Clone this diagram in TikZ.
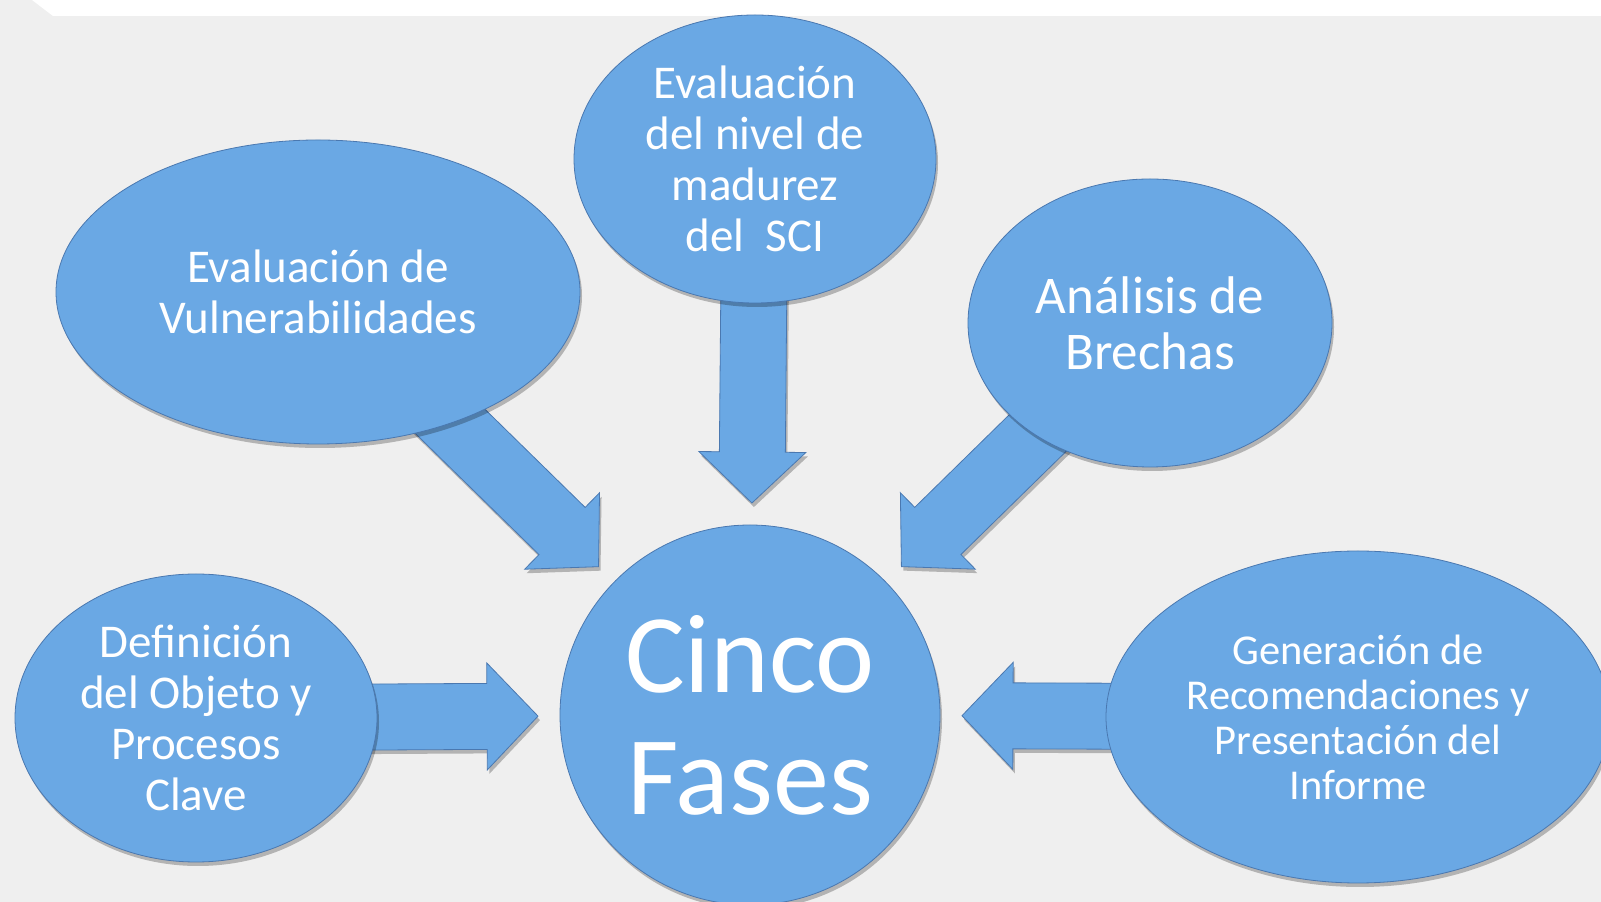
\documentclass[tikz,border=0pt]{standalone}
\usepackage{fontspec}
\setmainfont{Carlito}
\usetikzlibrary{shapes.geometric,calc,shadows}

\definecolor{phaseblue}{RGB}{106,168,228}
\definecolor{phaseedge}{RGB}{74,120,176}
\definecolor{paper}{RGB}{239,239,239}

\pgfdeclarelayer{back}
\pgfdeclarelayer{arrows}
\pgfsetlayers{back,arrows,main}

\tikzset{
  softshadow/.style={drop shadow={shadow xshift=2pt, shadow yshift=-4pt,
      opacity=0.25, fill=black}},
  phase/.style={ellipse, fill=phaseblue, draw=phaseedge, line width=0.8pt,
      text=white, align=center, inner sep=0pt, softshadow,
      font=\fontsize{47}{51}\selectfont},
  core/.style={circle, fill=phaseblue, draw=phaseedge, line width=0.8pt,
      text=white, align=center, inner sep=0pt, softshadow,
      font=\fontsize{112}{122}\selectfont},
  arrowbody/.style={fill=phaseblue, draw=phaseedge, line width=0.8pt,
      line join=miter, softshadow}
}

% block arrow from the centre of #1 towards #2, tip kept off #2's border
\newcommand{\blockarrow}[2]{%
  \coordinate (#1-tip) at ($(#2.center)!212pt!(#1.center)$);
  \coordinate (#1-base) at ($(#1-tip)!51pt!(#1.center)$);
  \filldraw[arrowbody]
    ($(#1.center)!33pt!90:(#1-tip)$) -- ($(#1-base)!33pt!90:(#1-tip)$)
    -- ($(#1-base)!53.5pt!90:(#1-tip)$) -- (#1-tip)
    -- ($(#1-base)!53.5pt!-90:(#1-tip)$) -- ($(#1-base)!33pt!-90:(#1-tip)$)
    -- ($(#1.center)!33pt!-90:(#1-tip)$) -- cycle;
}

\begin{document}
\begin{tikzpicture}[x=1pt,y=1pt]
  \useasboundingbox (0,0) rectangle (1601,902);

  % Background
  \begin{pgfonlayer}{back}
    \fill[paper] (0,0) rectangle (1601,902);
    \fill[white] (32,902) -- (53,886) -- (1601,886) -- (1601,902) -- cycle;
  \end{pgfonlayer}

  % Centre
  \node[core, minimum size=380pt] (cinco) at (750,187) {Cinco\\Fases};

  % Phases
  \node[phase, minimum width=524pt, minimum height=304pt] (vuln) at (318,610)
    {Evaluación de\\Vulnerabilidades};
  \node[phase, minimum width=362pt, minimum height=288pt] (madurez) at (755,743)
    {Evaluación\\del nivel de\\madurez\\del~\ SCI};
  \node[phase, minimum width=364pt, minimum height=288pt,
        font=\fontsize{53}{56}\selectfont] (brechas) at (1150,579)
    {Análisis de\\Brechas};
  \node[phase, minimum width=362pt, minimum height=288pt] (objeto) at (196,184)
    {Definición\\del Objeto y\\Procesos\\Clave};
  \node[phase, minimum width=504pt, minimum height=332pt,
        font=\fontsize{42.5}{45}\selectfont] (informe) at (1358,185)
    {Generación de\\Recomendaciones y\\Presentación del\\Informe};

  % Arrows
  \begin{pgfonlayer}{arrows}
    \blockarrow{vuln}{cinco}
    \blockarrow{madurez}{cinco}
    \blockarrow{brechas}{cinco}
    \blockarrow{objeto}{cinco}
    \blockarrow{informe}{cinco}
  \end{pgfonlayer}
\end{tikzpicture}
\end{document}
